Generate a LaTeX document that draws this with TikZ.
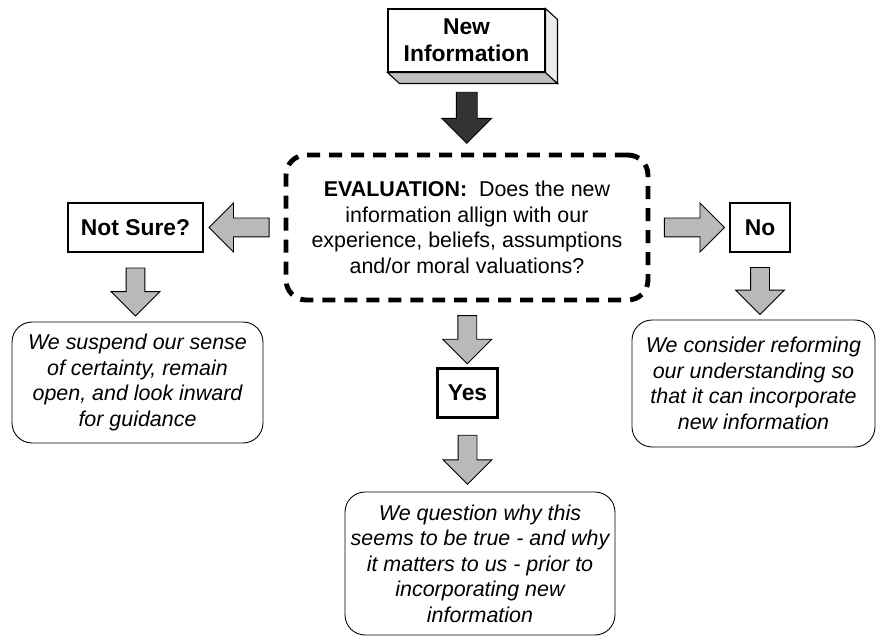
\documentclass[tikz,border=0pt]{standalone}
\usepackage{fontspec}
\setmainfont{Liberation Sans}
\usetikzlibrary{shapes.arrows, calc}

\begin{document}
\fontsize{12.2pt}{14.5pt}\selectfont
\begin{tikzpicture}[
				x=0.02cm, y=-0.02cm,
				answer/.style={draw, line width=1.2pt, minimum width=1.2cm, minimum height=0.98cm, inner sep=0pt, font=\fontsize{13pt}{15.5pt}\selectfont\bfseries},
				outcome/.style={draw, line width=0.5pt, rounded corners=0.4cm, align=center, inner sep=0pt, font=\itshape},
				blockarrow/.style={single arrow, draw, line width=0.5pt, fill=gray!55, inner xsep=0pt, inner ysep=0.18cm, single arrow head extend=0.3cm, single arrow head indent=0pt}
				]
				
				\useasboundingbox (0,0) rectangle (876,638);
				
				% input box with its bevel
				\node[draw, line width=0.6pt, fill=white, minimum width=3.14cm, minimum height=1.26cm, align=center, inner sep=0pt, font=\fontsize{13pt}{15.5pt}\selectfont\bfseries] (newinfo) at (466.5,40.5) {New\\Information};
				\filldraw[fill=gray!50, line width=0.6pt] (newinfo.south west) -- ++(12,11) -- ($(newinfo.south east)+(12,11)$) -- (newinfo.south east) -- cycle;
				\filldraw[fill=gray!15, line width=0.6pt] (newinfo.north east) -- ++(12,11) -- ($(newinfo.south east)+(12,11)$) -- (newinfo.south east) -- cycle;
				
				\node[draw, line width=2.8pt, dash pattern=on 0.26cm off 0.18cm, rounded corners=0.4cm, minimum width=7.24cm, minimum height=2.9cm, align=center, inner sep=0pt] (eval) at (467,227.5) {\textbf{EVALUATION:}\ \ Does the new\\information allign with our\\experience, beliefs, assumptions\\and/or moral valuations?};
				
				\node[answer, minimum width=2.7cm] (notsure) at (135.5,227.5) {Not Sure?};
				\node[answer] (no) at (760,227.5) {No};
				\node[answer] (yes) at (467.5,393) {Yes};
				
				\node[outcome, minimum width=5.02cm, minimum height=2.42cm] (suspend) at (137.5,382.5) {We suspend our sense\\of certainty, remain\\open, and look inward\\for guidance};
				\node[outcome, minimum width=4.86cm, minimum height=2.54cm] (reform) at (753.5,383.5) {We consider reforming\\our understanding so\\that it can incorporate\\new information};
				\node[outcome, minimum width=5.4cm, minimum height=2.86cm] (question) at (480,563.5) {We question why this\\seems to be true - and why\\it matters to us - prior to\\incorporating new\\information};
				
				% block arrows
				\node[blockarrow, fill=black!80, rotate=-90, minimum height=1.02cm, inner ysep=0.2cm, single arrow head extend=0.29cm] (toeval) at ($(newinfo.south)!0.5!(eval.north)$) {};
				\node[blockarrow, rotate=180, minimum height=1.2cm] (tonotsure) at ($(notsure.east)!0.5!(eval.west)$) {};
				\node[blockarrow, minimum height=1.2cm] (tono) at ($(eval.east)!0.5!(no.west)$) {};
				\node[blockarrow, rotate=-90, minimum height=0.96cm] (toyes) at ($(eval.south)!0.5!(yes.north)$) {};
				\node[blockarrow, rotate=-90, minimum height=0.96cm] (tosuspend) at ($(notsure.south)!0.5!(notsure.south|-suspend.north)$) {};
				\node[blockarrow, rotate=-90, minimum height=0.94cm] (toreform) at ($(no.south)!0.5!(no.south|-reform.north)$) {};
				\node[blockarrow, rotate=-90, minimum height=0.98cm] (toquestion) at ($(yes.south)!0.5!(yes.south|-question.north)$) {};
				
			\end{tikzpicture}
\end{document}
